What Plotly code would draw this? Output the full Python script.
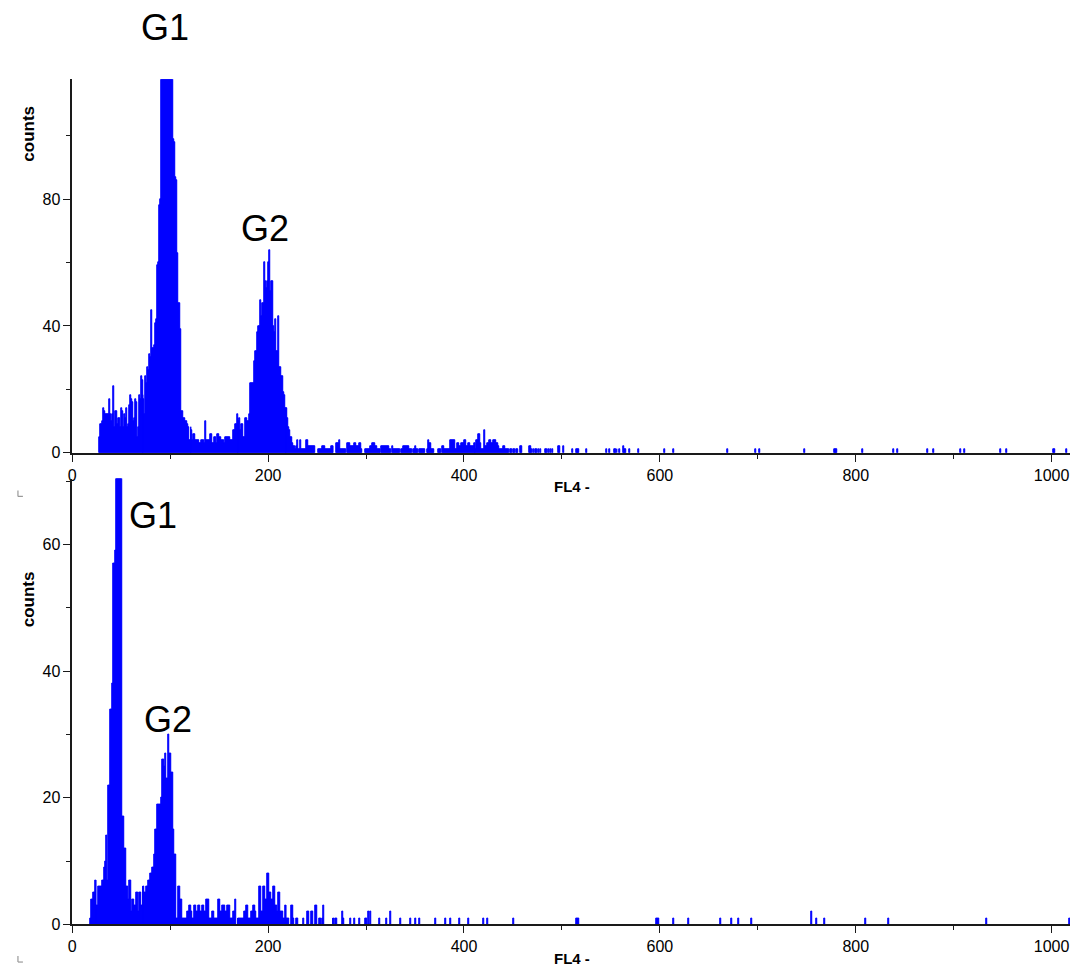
import plotly.graph_objects as go

# ---------------- data (counts per FL4 channel) ----------------
TOP_FIRST_CHANNEL = 28
top_g1 = [
    5, 9, 9, 10, 14, 13, 12, 12, 12, 12,
    17, 12, 10, 12, 21, 8, 13, 13, 9, 11,
    11, 8, 14, 13, 8, 12, 11, 14, 8, 9,
    15, 18, 17, 16, 10, 11, 17, 16, 5, 8,
    18, 17, 24, 23, 18, 17, 12, 24, 22, 27,
    26, 31, 30, 45, 33, 33, 34, 41, 42, 59,
    60, 78, 80, 125, 140, 150, 160, 165, 170, 168,
    160, 150, 142, 130, 122, 99, 98, 87, 86, 63,
    47, 47, 39, 13, 13, 11, 11, 10, 10, 9,
    8, 4, 4, 8, 7, 4, 6, 6, 4, 4,
    4, 4, 3, 3, 4, 4, 4, 3, 10, 4,
    4, 4, 4, 6, 6, 3, 3, 5, 5, 3,
    6, 6, 5, 5, 4, 4, 4, 3, 5, 5,
    5, 5, 5, 4, 4, 4, 7, 7, 9, 9,
    12, 11, 10, 11, 7, 9, 9, 5, 5, 11,
    11, 10, 10,
]
top_g2 = [
    12, 22, 22, 22, 22, 29, 32, 32, 38, 40,
    40, 48, 43, 47, 47, 60, 54, 52, 54, 60,
    64, 51, 54, 54, 40, 38, 42, 32, 32, 43,
    27, 27, 24, 24, 19, 18, 14, 14, 14, 11,
    8, 7, 5, 5, 3, 2, 2, 1, 2, 4,
    1, 1, 4, 1, 1, 1, 1, 1, 4, 4,
    2, 2, 2, 2, 2, 2, 2, 0, 0, 0,
    1, 1, 1, 1, 2, 2, 2, 1, 1, 1,
]
top_mid = [
    1, 1, 1, 2, 2, 2, 0, 0, 0, 3,
    3, 3, 4, 1, 1, 1, 1, 1, 1, 0,
    3, 3, 3, 2, 2, 2, 2, 3, 3, 2,
    2, 2, 3, 3, 1, 0, 0, 0, 1, 1,
    1, 1, 1, 2, 2, 3, 3, 3, 2, 2,
    1, 1, 1, 1, 0, 2, 2, 2, 2, 2,
    2, 2, 2, 1, 1, 0, 2, 1, 1, 1,
    1, 1, 1, 1, 0, 1, 1, 2, 2, 2,
    2, 2, 2, 1, 1, 1, 0, 1, 1, 2,
    1, 1, 0, 1, 1, 1, 1, 1, 1, 0,
    0, 1, 1, 4, 3, 3, 1, 1, 1, 0,
    0, 0, 0, 1, 1, 1, 0, 2, 2, 1,
    1, 1, 1, 1, 1, 4, 4, 4, 4, 4,
    1, 1, 3, 3, 2, 2, 3, 3, 3, 4,
    4, 2, 2, 3, 3, 2, 2, 2, 2, 3,
    3, 1, 4, 4, 6, 6, 3, 1, 1, 1,
    7, 2, 2, 3, 3, 4, 4, 3, 3, 4,
    4, 4, 3, 3, 2, 1, 1, 1, 1, 2,
    2, 1, 1, 1, 1, 0, 1, 1, 0, 1,
    1, 0, 1, 1, 0, 0, 2, 2, 0, 0,
]
top_tail_channels = [467, 468, 469, 471, 473, 474, 476, 478, 483, 484, 486, 488, 490,
                     496, 497, 501, 511, 515, 516, 517, 525, 545, 548, 553, 554, 556,
                     559, 563, 564, 565, 569, 578, 604, 614, 669, 697, 701, 747, 778,
                     779, 780, 807, 838, 842, 873, 879, 907, 911, 948, 954, 1002, 1003,
                     1015]
top_tail_counts = [2, 2, 1, 1, 1, 1, 1, 1, 1, 1, 1, 1, 1,
                   2, 2, 2, 1, 1, 1, 1, 1, 1, 1, 1, 1, 1,
                   1, 2, 1, 1, 1, 1, 1, 1, 1, 1, 1, 1, 1,
                   1, 1, 1, 1, 1, 1, 1, 1, 1, 1, 1, 1, 1,
                   1]

BOTTOM_FIRST_CHANNEL = 18
bottom_g1 = [
    1, 4, 4, 5, 5, 7, 7, 3, 3, 6,
    6, 6, 6, 7, 7, 9, 10, 14, 7, 22,
    22, 34, 34, 38, 57, 57, 59, 75, 86, 94,
    100, 95, 85, 17, 17, 12, 12, 6, 6, 4,
    7, 7, 2, 4, 4, 3, 3, 5, 5, 2,
    5, 5, 3, 3, 6, 6, 5, 5, 6, 6,
    7, 7, 8, 8, 9, 9, 11, 15, 15, 19,
    19, 19, 19, 20, 26, 26, 25, 27, 23, 23,
    30, 27, 27, 24, 24, 15, 11, 11, 1, 1,
]
bottom_mid = [
    6, 6, 4, 4, 1, 1, 1, 1, 1, 2,
    2, 3, 3, 2, 2, 1, 1, 3, 3, 2,
    2, 3, 3, 2, 2, 3, 3, 2, 2, 4,
    4, 4, 1, 1, 1, 2, 2, 1, 1, 1,
    1, 4, 4, 2, 2, 3, 3, 3, 2, 2,
    3, 3, 3, 1, 1, 1, 2, 2, 4, 0,
    0, 1, 1, 1, 1, 1, 1, 1, 2, 2,
    3, 3, 1, 1, 1, 2, 2, 3, 3, 2,
    1, 1, 1, 6, 6, 2, 2, 6, 6, 4,
    4, 8, 8, 5, 5, 4, 4, 6, 6, 3,
    3, 2, 5, 5, 2, 2, 2, 1, 1, 3,
    3, 1, 1, 1, 0, 0, 3, 3, 1, 0,
    0, 1, 1, 0, 0, 0, 0, 0, 1, 0,
    0, 0, 2, 2, 0, 0, 2, 2, 0, 0,
    3, 3, 0, 0, 1, 1, 0, 1, 3,
]
bottom_tail_channels = [266, 267, 269, 270, 276, 277, 284, 288, 293, 299, 300, 302, 304,
                        313, 321, 325, 335, 345, 350, 354, 371, 381, 386, 395, 404, 420,
                        424, 450, 515, 516, 517, 596, 597, 598, 614, 629, 662, 673, 680,
                        693, 755, 760, 768, 810, 833, 933, 1018]
bottom_tail_counts = [1, 1, 1, 1, 2, 1, 1, 1, 1, 1, 1, 2, 2,
                      1, 1, 2, 1, 1, 1, 1, 1, 1, 1, 1, 1, 1,
                      1, 1, 1, 1, 1, 1, 1, 1, 1, 1, 1, 1, 1,
                      1, 2, 1, 1, 1, 1, 1, 1]

x_tick_values = [0, 200, 400, 600, 800, 1000]
top_y_ticks = [0, 40, 80]
bottom_y_ticks = [0, 20, 40, 60]

# ---------------- styling ----------------
W, H = 1070, 975
BLUE = "#0000ff"
FONT = "Liberation Sans, Arial, sans-serif"
AXIS_COLOR = "#1a1a1a"


def channel_series(first, dense, tail_ch, tail_ct):
    chans = list(range(first, first + len(dense))) + list(tail_ch)
    cnts = list(dense) + list(tail_ct)
    xs = [c + 0.5 for c, n in zip(chans, cnts) if n > 0]
    ys = [n for n in cnts if n > 0]
    return xs, ys


top_x, top_y = channel_series(TOP_FIRST_CHANNEL, top_g1 + top_g2 + top_mid,
                              top_tail_channels, top_tail_counts)
bot_x, bot_y = channel_series(BOTTOM_FIRST_CHANNEL, bottom_g1 + bottom_mid,
                              bottom_tail_channels, bottom_tail_counts)

fig = go.Figure()
fig.add_trace(go.Bar(x=top_x, y=top_y, width=1, xaxis="x", yaxis="y",
                     marker=dict(color=BLUE, line=dict(color=BLUE, width=1.0)),
                     showlegend=False, hoverinfo="x+y"))
fig.add_trace(go.Bar(x=bot_x, y=bot_y, width=1, xaxis="x2", yaxis="y2",
                     marker=dict(color=BLUE, line=dict(color=BLUE, width=1.0)),
                     showlegend=False, hoverinfo="x+y"))


def px_x(p):
    return p / W


def px_y(p):
    return 1 - p / H


X_LEFT = 68.5
X_RANGE = [0, 1018.8]


def xaxis_cfg(anchor):
    return dict(domain=[px_x(X_LEFT), 1], range=X_RANGE, anchor=anchor,
                showline=True, linecolor=AXIS_COLOR, linewidth=1.5,
                ticks="outside", ticklen=7, tickwidth=1.3, tickcolor=AXIS_COLOR,
                tickmode="array", tickvals=x_tick_values,
                ticktext=[str(v) for v in x_tick_values],
                minor=dict(tick0=0, dtick=100, ticks="outside", ticklen=4,
                           tickwidth=1.2, tickcolor=AXIS_COLOR, showgrid=False),
                showgrid=False, zeroline=False,
                tickfont=dict(family=FONT, size=16, color="black"))


def yaxis_cfg(anchor, dom, rng, ticks, minor_step):
    return dict(domain=dom, range=rng, anchor=anchor,
                showline=True, linecolor=AXIS_COLOR, linewidth=1.5,
                ticks="outside", ticklen=7, tickwidth=1.3, tickcolor=AXIS_COLOR,
                tickmode="array", tickvals=ticks, ticktext=[str(v) for v in ticks],
                minor=dict(tick0=0, dtick=minor_step, ticks="outside", ticklen=4,
                           tickwidth=1.2, tickcolor=AXIS_COLOR, showgrid=False),
                showgrid=False, zeroline=False,
                tickfont=dict(family=FONT, size=16, color="black"))


fig.update_layout(
    width=W, height=H, autosize=False,
    margin=dict(l=0, r=0, t=0, b=0, pad=0),
    paper_bgcolor="white", plot_bgcolor="white",
    bargap=0, barmode="overlay",
    xaxis=xaxis_cfg("y"),
    yaxis=yaxis_cfg("x", [px_y(457), px_y(80)], [0, 117.8], top_y_ticks, 20),
    xaxis2=xaxis_cfg("y2"),
    yaxis2=yaxis_cfg("x2", [px_y(933), px_y(483)], [0, 70.4], bottom_y_ticks, 10),
    font=dict(family=FONT, color="black"),
)

annotations = [
    # peak labels
    dict(text="G1", x=px_x(161.5), y=px_y(28), size=36, bold=False),
    dict(text="G2", x=px_x(262), y=px_y(231), size=36, bold=False),
    dict(text="G1", x=px_x(150), y=px_y(520), size=36, bold=False),
    dict(text="G2", x=px_x(164.5), y=px_y(726), size=36, bold=False),
    # axis titles
    dict(text="FL4 -", x=px_x(570), y=px_y(491), size=15, bold=True),
    dict(text="FL4 -", x=px_x(570), y=px_y(967), size=15, bold=True),
]
for a in annotations:
    txt = f"<b>{a['text']}</b>" if a["bold"] else a["text"]
    fig.add_annotation(text=txt, x=a["x"], y=a["y"], xref="paper", yref="paper",
                       showarrow=False, xanchor="center", yanchor="middle",
                       font=dict(family=FONT, size=a["size"], color="black"))

for cy in (135, 605):
    fig.add_annotation(text="<b>counts</b>", x=px_x(25), y=px_y(cy),
                       xref="paper", yref="paper", showarrow=False, textangle=-90,
                       xanchor="center", yanchor="middle",
                       font=dict(family=FONT, size=17, color="black"))

# small corner marks at the left edge
for top in (495, 965):
    fig.add_shape(type="line", xref="paper", yref="paper",
                  x0=px_x(14), x1=px_x(14), y0=px_y(top), y1=px_y(top + 6),
                  line=dict(color="#999999", width=1.2))
    fig.add_shape(type="line", xref="paper", yref="paper",
                  x0=px_x(14), x1=px_x(19), y0=px_y(top + 6), y1=px_y(top + 6),
                  line=dict(color="#999999", width=1.2))

fig.write_html(
    "out.html",
    config={"responsive": False, "displayModeBar": False},
    post_script="document.body.style.margin='0';document.body.style.padding='0';"
                "document.body.style.overflow='hidden';",
)
